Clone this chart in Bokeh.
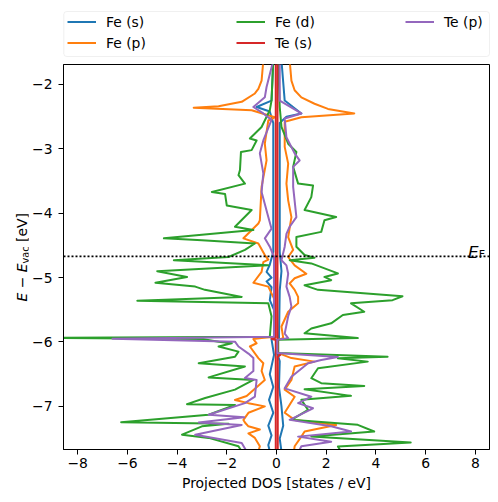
import math
from bokeh.plotting import figure
from bokeh.layouts import column, row
from bokeh.core.properties import value
from bokeh.models import (ColumnDataSource, Legend, LegendItem, Span,
                          FixedTicker, Range1d, BoxAnnotation)
from bokeh.embed import file_html
from bokeh.resources import INLINE

FONT = "DejaVu Sans"

orbitals = ["Fe (s)", "Fe (p)", "Fe (d)", "Te (s)", "Te (p)"]
colors = ["#1f77b4", "#ff7f0e", "#2ca02c", "#d62728", "#9467bd"]
E_FERMI = -4.67
X_MAX = 8.57
x_ticks = [-8, -6, -4, -2, 0, 2, 4, 6, 8]
y_ticks = [-7, -6, -5, -4, -3, -2]

# ---- Fe (s) ----
fe_s_up_E = [-1.63, -2.25, -2.45, -2.50, -2.6, -4.6, -4.9, -5.2, -5.94, -5.965, -6.17, -6.3, -6.7, -7.0, -7.3, -7.5, -7.7]
fe_s_up = [0.2, 0.33, 1.0, 0.4, 0.13, 0.13, 0.2, 0.13, 0.1, 0.03, 0.03, 0.13, 0.1, 0.2, 0.27, 0.13, 0.2]
fe_s_dn_E = [-1.63, -2.25, -2.35, -2.42, -2.6, -4.6, -4.8, -4.91, -5.0, -5.06, -5.15, -5.35, -5.5, -5.94, -5.96, -6.2, -6.5, -6.7, -6.9, -7.1, -7.3, -7.45, -7.6, -7.7]
fe_s_dn = [-0.13, -0.2, -0.8, -0.27, -0.13, -0.13, -0.27, -0.4, -0.2, -0.4, -0.2, -0.27, -0.1, -0.07, -0.2, -0.1, -0.27, -0.13, -0.3, -0.13, -0.33, -0.2, -0.33, -0.27]

# ---- Fe (p) ----
fe_p_up_E = [-1.63, -1.94, -2.09, -2.20, -2.30, -2.38, -2.45, -2.51, -2.58, -2.97, -3.23, -3.54, -3.80, -4.06, -4.37, -4.57, -4.68, -4.81, -4.94, -5.01, -5.09, -5.19, -5.30, -5.40, -5.53, -5.76, -5.94, -5.965, -6.17, -6.25, -6.305, -6.38, -6.59, -6.74, -6.85, -7.10, -7.21, -7.29, -7.39, -7.47, -7.62, -7.7]
fe_p_up = [0.53, 0.6, 0.73, 1.0, 1.53, 2.07, 3.13, 1.0, 0.33, 0.33, 0.47, 0.4, 0.47, 0.6, 0.47, 0.67, 0.47, 0.73, 1.2, 0.73, 0.53, 0.73, 0.87, 0.87, 0.47, 0.2, 0.27, 0.05, 0.05, 0.6, 1.53, 0.73, 0.6, 0.33, 0.73, 0.33, 0.73, 2.4, 1.13, 1.0, 0.73, 0.7]
fe_p_dn_E = [-1.63, -1.94, -2.07, -2.14, -2.27, -2.34, -2.36, -2.40, -2.51, -2.56, -2.92, -3.18, -3.59, -4.11, -4.16, -4.39, -4.47, -4.65, -4.72, -4.76, -4.91, -5.08, -5.14, -5.35, -5.92, -5.94, -5.955, -6.02, -6.07, -6.25, -6.33, -6.45, -6.59, -6.84, -6.90, -6.95, -7.0, -7.1, -7.21, -7.25, -7.31, -7.36, -7.42, -7.49, -7.62, -7.7]
fe_p_dn = [-0.53, -0.6, -0.73, -0.87, -1.4, -2.33, -3.33, -1.0, -0.07, -0.33, -0.47, -0.4, -0.6, -0.67, -0.73, -1.33, -0.73, -0.47, -0.33, -0.53, -0.6, -0.93, -0.33, -0.07, -0.07, -0.6, -0.93, -0.8, -1.07, -0.73, -0.53, -0.6, -0.47, -1.2, -1.67, -1.13, -0.47, -1.13, -1.33, -1.27, -1.13, -0.67, -1.13, -0.87, -0.67, -0.73]

# ---- Fe (d) ----
fe_d_up_E = [-1.63, -2.35, -2.66, -2.92, -3.05, -3.28, -3.54, -3.57, -3.75, -3.95, -4.06, -4.11, -4.29, -4.37, -4.52, -4.65, -4.69, -4.73, -4.78, -4.935, -4.99, -5.04, -5.12, -5.19, -5.29, -5.35, -5.40, -5.53, -5.58, -5.71, -5.79, -5.865, -5.94, -5.965, -6.17, -6.228, -6.253, -6.305, -6.408, -6.563, -6.64, -6.682, -6.733, -6.837, -6.899, -7.054, -7.209, -7.287, -7.391, -7.468, -7.561, -7.623, -7.7]
fe_d_up = [0.07, 0.13, 0.2, 0.47, 0.8, 0.67, 0.87, 1.47, 1.4, 1.13, 2.4, 1.93, 1.8, 0.8, 0.8, 1.13, 1.53, 0.53, 1.4, 2.47, 1.93, 2.2, 1.13, 1.67, 5.07, 4.67, 3.0, 3.53, 2.67, 2.2, 1.4, 1.13, 3.27, 0.07, 0.07, 4.47, 2.47, 3.67, 1.67, 1.4, 1.8, 3.53, 1.13, 3.0, 1.0, 1.27, 0.6, 3.27, 3.93, 1.4, 5.4, 2.47, 2.6]
fe_d_dn_E = [-1.63, -2.25, -2.40, -2.66, -2.84, -2.87, -3.02, -3.05, -3.33, -3.41, -3.54, -3.67, -3.70, -3.88, -3.95, -4.21, -4.26, -4.39, -4.42, -4.47, -4.57, -4.68, -4.73, -4.81, -4.90, -4.99, -5.08, -5.14, -5.19, -5.30, -5.36, -5.40, -5.6, -5.92, -5.935, -5.955, -5.995, -6.02, -6.07, -6.15, -6.23, -6.33, -6.38, -6.55, -6.59, -6.74, -6.87, -6.966, -6.977, -7.13, -7.245, -7.27, -7.31, -7.44, -7.49, -7.62, -7.7]
fe_d_dn = [-0.13, -0.2, -0.27, -0.6, -1.07, -0.8, -1.0, -1.43, -1.47, -1.53, -1.27, -2.6, -2.07, -2.0, -1.0, -1.67, -0.93, -4.53, -3.0, -0.87, -1.27, -1.93, -4.13, -0.33, -4.8, -3.6, -4.87, -3.27, -2.88, -1.4, -5.6, -0.33, -0.2, -0.27, -9.0, -3.0, -2.33, -1.8, -2.33, -1.53, -1.67, -3.13, -1.27, -2.73, -0.93, -1.67, -2.87, -3.6, -1.67, -2.73, -6.25, -1.93, -3.0, -3.8, -2.73, -1.53, -1.4]

# ---- Te (s) ----
te_s_up_E = [-1.63, -6.17, -6.2, -6.23, -7.7]
te_s_up = [0.04, 0.04, 0.15, 0.05, 0.05]
te_s_dn_E = [-1.63, -5.93, -5.95, -5.97, -7.7]
te_s_dn = [-0.03, -0.03, -0.2, -0.03, -0.03]

# ---- Te (p) ----
te_p_up_E = [-1.63, -2.25, -2.45, -2.53, -2.82, -3.07, -3.18, -3.28, -3.59, -4.06, -4.21, -4.32, -4.52, -4.73, -4.81, -4.94, -5.14, -5.30, -5.45, -5.6, -5.87, -5.94, -5.965, -6.17, -6.233, -6.28, -6.33, -6.54, -6.72, -6.85, -6.95, -7.03, -7.21, -7.31, -7.39, -7.47, -7.55, -7.62, -7.7]
te_p_up = [0.13, 0.13, 1.0, 0.33, 0.4, 0.73, 0.93, 0.67, 0.67, 0.8, 0.53, 0.4, 0.33, 0.2, 0.4, 0.47, 0.4, 0.53, 0.6, 0.47, 0.33, 0.47, 0.03, 0.03, 2.47, 1.8, 1.27, 0.6, 0.33, 1.4, 0.87, 1.47, 0.53, 2.2, 3.0, 0.87, 2.2, 1.0, 0.9]
te_p_dn_E = [-1.63, -2.04, -2.20, -2.35, -2.45, -2.55, -2.87, -3.07, -3.38, -3.67, -4.06, -4.24, -4.39, -4.52, -4.68, -5.92, -5.95, -5.995, -6.07, -6.18, -6.25, -6.45, -6.56, -6.59, -6.85, -6.95, -7.13, -7.17, -7.25, -7.29, -7.44, -7.57, -7.7]
te_p_dn = [-0.13, -0.4, -0.47, -0.93, -0.53, -0.2, -0.53, -0.67, -0.53, -0.6, -0.33, -0.2, -0.47, -0.27, -0.1, -0.1, -6.6, -1.67, -1.53, -1.13, -0.93, -0.93, -1.27, -0.8, -0.87, -1.27, -2.73, -1.3, -3.13, -1.4, -3.27, -1.4, -1.2]

series = [
    (fe_s_up_E, fe_s_up, fe_s_dn_E, fe_s_dn),
    (fe_p_up_E, fe_p_up, fe_p_dn_E, fe_p_dn),
    (fe_d_up_E, fe_d_up, fe_d_dn_E, fe_d_dn),
    (te_s_up_E, te_s_up, te_s_dn_E, te_s_dn),
    (te_p_up_E, te_p_up, te_p_dn_E, te_p_dn),
]


def blank_fig(w, h, xr, yr):
    f = figure(width=w, height=h, min_border=0, x_range=Range1d(*xr), y_range=Range1d(*yr),
               output_backend="svg", toolbar_location=None,
               x_axis_location=None, y_axis_location=None)
    f.xgrid.visible = False
    f.ygrid.visible = False
    f.outline_line_color = None
    f.background_fill_color = "white"
    f.border_fill_color = "white"
    return f


# ---------------- main plot ----------------
p = figure(frame_width=426, frame_height=385,
           min_border_left=35, min_border_right=9, min_border_top=1, min_border_bottom=53,
           x_range=Range1d(-X_MAX, X_MAX), y_range=Range1d(-7.67, -1.69),
           output_backend="svg", toolbar_location=None)
p.margin = (0, 0, 0, -34)
p.xgrid.visible = False
p.ygrid.visible = False
p.outline_line_color = "black"
p.outline_line_width = 1
p.outline_line_alpha = 1
p.background_fill_color = "white"
p.border_fill_color = "white"

for (eu, du, ed, dd), col in zip(series, colors):
    p.line(x="dos", y="E", source=ColumnDataSource(dict(E=eu, dos=du)),
           line_color=col, line_width=2, line_join="round")
    p.line(x="dos", y="E", source=ColumnDataSource(dict(E=ed, dos=dd)),
           line_color=col, line_width=2, line_join="round")

p.add_layout(Span(location=E_FERMI, dimension="width", line_color="black",
                  line_dash="2 2", line_width=1.6))

p.xaxis.ticker = FixedTicker(ticks=x_ticks)
p.yaxis.ticker = FixedTicker(ticks=y_ticks)
p.xaxis.major_label_overrides = {t: str(t).replace("-", "\u2212") for t in x_ticks}
p.yaxis.major_label_overrides = {t: str(t).replace("-", "\u2212") for t in y_ticks}
for ax in (p.xaxis[0], p.yaxis[0]):
    ax.major_tick_out = 5
    ax.major_tick_in = 0
    ax.minor_tick_out = 0
    ax.minor_tick_in = 0
    ax.axis_line_color = "black"
    ax.major_tick_line_color = "black"
    ax.major_label_text_font = FONT
    ax.major_label_text_font_size = "13.9px"
    ax.major_label_text_color = "black"
p.xaxis.major_label_standoff = 3
p.yaxis.major_label_standoff = 6
p.xaxis.axis_label = "Projected DOS [states / eV]"
p.xaxis.axis_label_text_font = FONT
p.xaxis.axis_label_text_font_size = "13.9px"
p.xaxis.axis_label_text_font_style = "normal"
p.xaxis.axis_label_text_color = "black"
p.xaxis.axis_label_standoff = 4

# E_F label (text glyphs anchored at the Fermi level, right edge)
p.text(x=[X_MAX], y=[E_FERMI], text=["E"], x_offset=-11, y_offset=-4,
       text_font=value(FONT), text_font_style="italic", text_font_size="16.7px",
       text_baseline="alphabetic", text_align="right", text_color="black")
p.text(x=[X_MAX], y=[E_FERMI], text=["F"], x_offset=-4.5, y_offset=-2,
       text_font=value(FONT), text_font_size="11px",
       text_baseline="alphabetic", text_align="right", text_color="black")

# ---------------- y-axis label panel (E − E_vac [eV]) ----------------
# the frame of this panel is aligned with the main frame (page y 64..449),
# its y units are "pixels above the page bottom" (502 - page y); the main plot overlaps its right part
ylab = blank_fig(62, 439, (0, 62), (53, 438))
ylab.text(x=[21.7], y=[201], text=["E \u2212 E"], angle=math.pi / 2,
          text_font=value(FONT), text_font_style="italic", text_font_size="13.9px",
          text_baseline="alphabetic", text_align="left", text_color="black")
ylab.text(x=[24.5], y=[239], text=["vac"], angle=math.pi / 2,
          text_font=value(FONT), text_font_size="9.7px",
          text_baseline="alphabetic", text_align="left", text_color="black")
ylab.text(x=[21.7], y=[260.5], text=["[eV]"], angle=math.pi / 2,
          text_font=value(FONT), text_font_size="13.9px",
          text_baseline="alphabetic", text_align="left", text_color="black")

# ---------------- legend panel ----------------
leg = blank_fig(498, 63, (0, 498), (0, 63))
leg.add_layout(BoxAnnotation(left=63.3, right=489, bottom=63 - 56, top=63 - 11,
                             fill_color="white", fill_alpha=0.8, line_color="#cccccc",
                             line_width=1, border_radius=3))
leg_renderers = [leg.line(x=[-20, -10], y=[-20, -10], line_color=c, line_width=2) for c in colors]

legend_cols = [([0, 1], 67, 63 - 53.2), ([2, 3], 236, 63 - 53.2), ([4], 405, 63 - 32.2)]
for idxs, lx, ly in legend_cols:
    items = [LegendItem(label=orbitals[i], renderers=[leg_renderers[i]]) for i in idxs]
    lg = Legend(items=items, location=(lx, ly), orientation="vertical",
                glyph_width=29, glyph_height=21, label_height=21, label_standoff=10,
                spacing=0, padding=0, margin=0, border_line_alpha=0,
                background_fill_alpha=0, label_text_font=FONT,
                label_text_font_size="13.9px", label_text_color="black")
    leg.add_layout(lg)

layout = column(leg, row(ylab, p, spacing=0), spacing=0)

open("out.html", "w").write(file_html(layout, INLINE))
